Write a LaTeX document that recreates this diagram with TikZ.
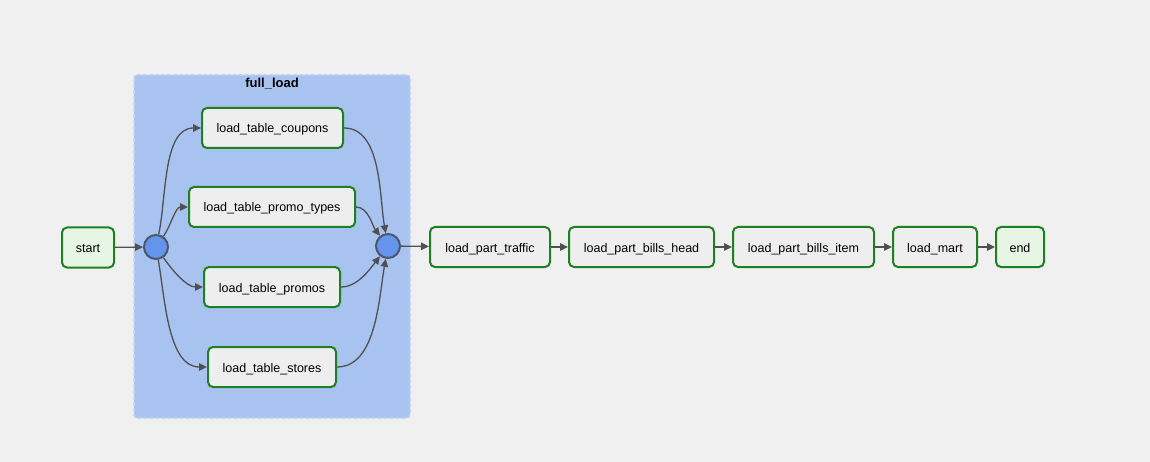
\documentclass[tikz,border=0pt]{standalone}
\usepackage{fontspec}
\setmainfont{Liberation Sans}
\usetikzlibrary{arrows.meta}
\definecolor{bgc}{HTML}{F0F0F0}
\definecolor{grpfill}{HTML}{A9C3F0}
\definecolor{grpline}{HTML}{C4D4F2}
\definecolor{taskfill}{HTML}{EEEEEE}
\definecolor{startfill}{HTML}{E6F5E4}
\definecolor{taskline}{HTML}{1E8020}
\definecolor{joinfill}{HTML}{6494EC}
\definecolor{joinline}{HTML}{4A586A}
\definecolor{edgec}{HTML}{505050}
\tikzset{
  task/.style={draw=taskline, line width=2pt, fill=taskfill, rounded corners=5pt,
    minimum height=40pt, inner sep=0pt, text height=10pt, text depth=0pt,
    font=\fontsize{12.5}{15}\selectfont, text=black},
  termbox/.style={task, fill=startfill},
  joinnode/.style={circle, draw=joinline, line width=2pt, fill=joinfill, minimum size=24pt, inner sep=0pt},
  edge/.style={draw=edgec, line width=1.3pt, -{Triangle[length=8pt,width=7.5pt]}},
}
\begin{document}
\begin{tikzpicture}[x=1pt,y=-1pt]
\useasboundingbox (0,0) rectangle (1150,462);
\fill[bgc] (0,0) rectangle (1150,462);
% group
\draw[grpline, fill=grpfill, line width=1.5pt, dash pattern=on 4pt off 2pt, rounded corners=3pt] (134,75) rectangle (410,418);
\node[font=\fontsize{13}{15}\selectfont\bfseries, text=black] (grp) at (272,84) {full\_load};
% nodes
\node[termbox, minimum width=52pt] (start) at (88,247.5) {start};
\node[joinnode] (c1) at (156,247) {};
\node[task, minimum width=141pt] (coupons) at (272.5,128) {load\_table\_coupons};
\node[task, minimum width=166pt] (ptypes) at (272,207) {load\_table\_promo\_types};
\node[task, minimum width=136pt] (promos) at (272,287) {load\_table\_promos};
\node[task, minimum width=128pt] (stores) at (272,367) {load\_table\_stores};
\node[joinnode] (c2) at (388,246) {};
\node[task, minimum width=120pt] (traffic) at (490,247) {load\_part\_traffic};
\node[task, minimum width=145pt] (bhead) at (641.5,247) {load\_part\_bills\_head};
\node[task, minimum width=141pt] (bitem) at (803.5,247) {load\_part\_bills\_item};
\node[task, minimum width=84pt] (mart) at (935,247) {load\_mart};
\node[termbox, minimum width=48pt] (end) at (1020,247) {end};
% edges
\draw[edge] (start) -- (c1);
\draw[edge] (c1) to[out=78, in=180, looseness=0.85] (coupons.west);
\draw[edge] (c1) to[out=55, in=180, looseness=0.85] (ptypes.west);
\draw[edge] (c1) to[out=-55, in=180, looseness=0.85] (promos.west);
\draw[edge] (c1) to[out=-80, in=180, looseness=0.85] (stores.west);
\draw[edge] (coupons.east) to[out=0, in=100, looseness=0.85] (c2);
\draw[edge] (ptypes.east) to[out=0, in=128, looseness=0.85] (c2);
\draw[edge] (promos.east) to[out=0, in=-128, looseness=0.85] (c2);
\draw[edge] (stores.east) to[out=0, in=-100, looseness=0.85] (c2);
\draw[edge] (c2) -- (traffic);
\draw[edge] (traffic) -- (bhead);
\draw[edge] (bhead) -- (bitem);
\draw[edge] (bitem) -- (mart);
\draw[edge] (mart) -- (end);
\end{tikzpicture}
\end{document}
